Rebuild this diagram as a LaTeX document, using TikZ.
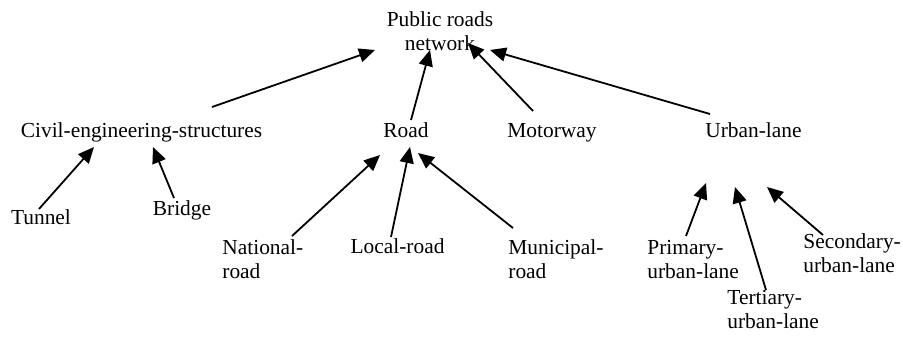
\documentclass[tikz,border=0pt]{standalone}
\usepackage{fontspec}
\setmainfont{Liberation Serif}
\usetikzlibrary{arrows.meta,calc}

\begin{document}
\begin{tikzpicture}[x=0.5pt, y=-0.5pt,
font=\fontsize{10.7pt}{12pt}\selectfont,
concept/.style={inner sep=0pt, anchor=base},
subconcept/.style={inner sep=0pt, anchor=base west, align=left},
isa/.style={-{Triangle[length=8pt,width=7pt]}, line width=0.9pt},
]
\useasboundingbox (0,0) rectangle (903,339);

\node[concept, align=center] (network) at (440,50) {Public roads\\network};

\node[concept] (civil) at (141.5,137) {Civil-engineering-structures};
\node[concept] (road) at (406,137) {Road};
\node[concept] (motorway) at (552,137) {Motorway};
\node[concept] (urban) at (753.5,137) {Urban-lane};

\node[concept] (tunnel) at (41,224) {Tunnel};
\node[concept] (bridge) at (182,215) {Bridge};

\node[subconcept] (national) at (222,278) {National-\\road};
\node[concept] (localroad) at (397.5,253) {Local-road};
\node[subconcept] (municipal) at (508,278) {Municipal-\\road};

\node[subconcept] (primary) at (647,278) {Primary-\\urban-lane};
\node[subconcept] (tertiary) at (727,328) {Tertiary-\\urban-lane};
\node[subconcept] (secondary) at (803,272) {Secondary-\\urban-lane};

\draw[isa] ($(civil.base)+(70.5,-30)$) -- ($(network.base)+(-65,0)$);
\draw[isa] ($(road.base)+(5,-17)$) -- ($(network.base)+(-10,0)$);
\draw[isa] ($(motorway.base)+(-19,-26)$) -- ($(network.base)+(28,-7)$);
\draw[isa] ($(urban.base)+(-43.5,-23)$) -- ($(network.base)+(50,0)$);

\draw[isa] ($(tunnel.base)+(-2,-15)$) -- ($(civil.base)+(-47.5,10)$);
\draw[isa] ($(bridge.base)+(-8,-17)$) -- ($(civil.base)+(11.5,10)$);

\draw[isa] ($(national.base west)+(70,-42)$) -- ($(road.base)+(-26,18)$);
\draw[isa] ($(localroad.base)+(-6.5,-16)$) -- ($(road.base)+(4,10)$);
\draw[isa] ($(municipal.base west)+(5,-50)$) -- ($(road.base)+(12,16)$);

\draw[isa] ($(primary.base west)+(39,-42)$) -- ($(urban.base)+(-47.5,46)$);
\draw[isa] ($(tertiary.base west)+(39,-38)$) -- ($(urban.base)+(-18.5,50)$);
\draw[isa] ($(secondary.base west)+(20,-37)$) -- ($(urban.base)+(13.5,50)$);

\end{tikzpicture}
\end{document}
